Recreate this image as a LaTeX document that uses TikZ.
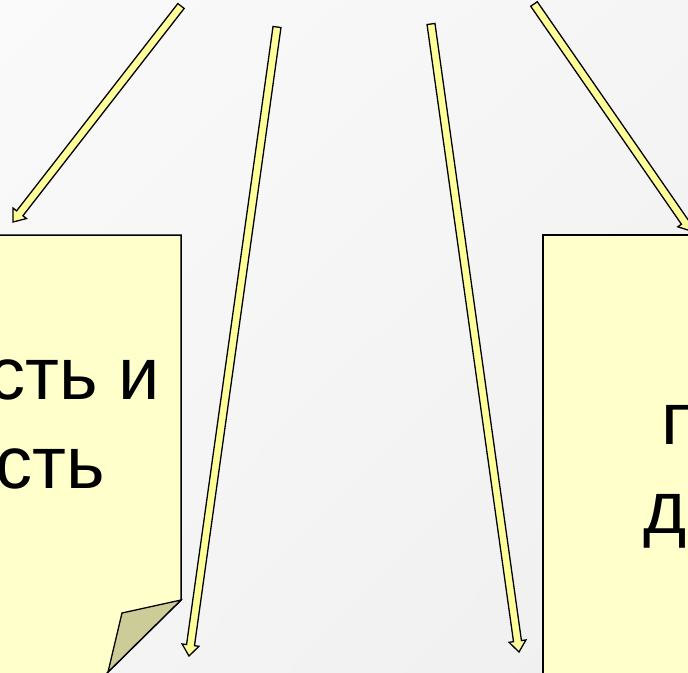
\documentclass[tikz,border=0pt]{standalone}
\usepackage{fontspec}
\setmainfont{Liberation Sans}
\usetikzlibrary{calc,shadings}
\definecolor{paper}{RGB}{255,255,204}
\definecolor{arrowyellow}{RGB}{255,255,153}
\definecolor{foldolive}{RGB}{204,204,153}
\definecolor{bglight}{RGB}{250,250,250}
\definecolor{bgmid}{RGB}{245,245,245}
\definecolor{bgdark}{RGB}{239,239,239}

% thick block arrow from #1 to the tip #2
\newcommand{\blockarrow}[2]{%
  \coordinate (hb) at ($(#2)!11pt!(#1)$);
  \draw[arrowbody] ($(#1)!4pt!90:(#2)$) -- ($(hb)!4pt!90:(#2)$)
    -- ($(hb)!8.5pt!90:(#2)$) -- (#2) -- ($(hb)!8.5pt!-90:(#2)$)
    -- ($(hb)!4pt!-90:(#2)$) -- ($(#1)!4pt!-90:(#2)$) -- cycle;
}

\begin{document}
\begin{tikzpicture}[x=1pt,y=-1pt,
  boxbody/.style={draw=black,line width=1.5pt,fill=paper,line join=miter},
  arrowbody/.style={draw=black,line width=1.3pt,fill=arrowyellow,line join=miter},
  boxtext/.style={inner sep=0pt,font=\fontsize{74}{88}\selectfont}]
\useasboundingbox (0,0) rectangle (688,672);
\clip (0,0) rectangle (688,672);
% draw the background
\shade[upper left=bglight,upper right=bgmid,lower left=bgmid,lower right=bgdark] (0,0) rectangle (688,672);

% the two sheets
\draw[boxbody] (-10,235) -- (181,235) -- (181,600) -- (100,680) -- (-10,680) -- cycle;
\draw[boxbody,fill=foldolive,line width=1.3pt] (181,600) -- (122,613) -- (108,672) -- cycle;
\draw[boxbody] (543,235) -- (700,235) -- (700,690) -- (543,690) -- cycle;

\node[boxtext,anchor=base east] (leftone) at (160,399) {сть и};
\node[boxtext,anchor=base east] (lefttwo) at (105,488) {сть};
\node[boxtext,anchor=base west] (rightone) at (661,444) {п};
\node[boxtext,anchor=base west] (righttwo) at (643,533) {д};

% the four arrows
\coordinate (from1) at (181,6);
\coordinate (to1) at (13,222);
\coordinate (from2) at (277,27);
\coordinate (to2) at (189,656);
\coordinate (from3) at (431,24);
\coordinate (to3) at (519,652);
\coordinate (from4) at (534,4);
\coordinate (to4) at (691,231);
\foreach \a/\b in {from1/to1,from2/to2,from3/to3,from4/to4} {
    \blockarrow{\a}{\b}
}

\end{tikzpicture}
\end{document}
